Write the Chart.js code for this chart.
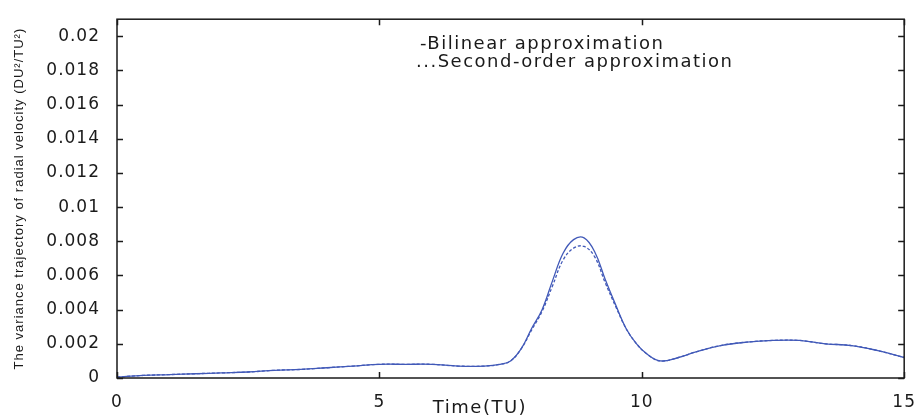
<!DOCTYPE html>
<html>
<head>
<meta charset="utf-8">
<script src="https://cdn.jsdelivr.net/npm/chart.js@4.4.1/dist/chart.umd.min.js"></script>
<style>
html,body{margin:0;padding:0;background:#fff;}
#wrap{width:922px;height:419px;position:relative;}
</style>
</head>
<body>
<div id="wrap"><canvas id="c" width="922" height="419"></canvas></div>
<script>
// ---- data ----
const timeTU = [0,0.5,1,1.5,2,2.5,3,3.5,4,4.5,5,5.5,6,6.5,7,7.3,7.5,7.7,7.9,8.1,8.3,8.5,8.7,8.9,9.1,9.3,9.5,9.7,9.9,10.1,10.35,10.7,11,11.5,12,12.5,13,13.5,14,14.5,15];
const bilinear = [0.00005,0.00015,0.0002,0.00025,0.0003,0.00035,0.00045,0.0005,0.0006,0.0007,0.0008,0.0008,0.0008,0.0007,0.0007,0.0008,0.001,0.0017,0.0029,0.0040,0.0057,0.0073,0.0081,0.0082,0.0074,0.0058,0.0043,0.0029,0.0020,0.0014,0.0010,0.0012,0.0015,0.0019,0.0021,0.0022,0.0022,0.0020,0.0019,0.0016,0.0012];
const secondOrder = [0.00005,0.00015,0.0002,0.00025,0.0003,0.00035,0.00045,0.0005,0.0006,0.0007,0.0008,0.0008,0.0008,0.0007,0.0007,0.0008,0.001,0.0017,0.0028,0.0039,0.0054,0.0069,0.0076,0.0077,0.0071,0.0056,0.0042,0.0029,0.0020,0.0014,0.0010,0.0012,0.0015,0.0019,0.0021,0.0022,0.0022,0.0020,0.0019,0.0016,0.0012];
const legendLabels = ['-Bilinear approximation', '...Second-order approximation'];
const xTitle = 'Time(TU)';
const yTitle = 'The variance trajectory of radial velocity (DU\u00B2/TU\u00B2)';
const yTicks = [0,0.002,0.004,0.006,0.008,0.01,0.012,0.014,0.016,0.018,0.02];
const xTicks = [0,5,10,15];

const LINE = '#4159b8';
const INK = '#1a1a1a';

const spacingPlugin = {
  id: 'spacing',
  beforeUpdate(chart) { chart.ctx.letterSpacing = '1px'; },
  beforeDraw(chart) { chart.ctx.letterSpacing = '1px'; }
};

const framePlugin = {
  id: 'frame',
  afterDatasetsDraw(chart) {
    const {ctx, chartArea: a, scales: {x, y}} = chart;
    ctx.save();
    ctx.strokeStyle = INK;
    ctx.lineWidth = 1.5;
    ctx.strokeRect(a.left, a.top, a.right - a.left, a.bottom - a.top);
    const tl = 6;
    ctx.beginPath();
    yTicks.forEach(v => {
      const py = Math.round(y.getPixelForValue(v)) + 0.5;
      ctx.moveTo(a.left, py); ctx.lineTo(a.left + tl, py);
      ctx.moveTo(a.right, py); ctx.lineTo(a.right - tl, py);
    });
    xTicks.forEach(v => {
      const px = Math.round(x.getPixelForValue(v)) + 0.5;
      ctx.moveTo(px, a.bottom); ctx.lineTo(px, a.bottom - tl);
      ctx.moveTo(px, a.top); ctx.lineTo(px, a.top + tl);
    });
    ctx.stroke();
    // legend text (text-only, as in the reference)
    ctx.fillStyle = INK;
    ctx.letterSpacing = '1.5px';
    ctx.font = '18px "DejaVu Sans"';
    ctx.textBaseline = 'middle';
    ctx.textAlign = 'left';
    ctx.fillText(legendLabels[0], 420, 44);
    ctx.fillText(legendLabels[1], 416, 62);
    // x axis title
    ctx.textAlign = 'center';
    ctx.fillText(xTitle, 480, 408);
    ctx.restore();
  }
};

new Chart(document.getElementById('c'), {
  type: 'line',
  data: {
    datasets: [
      {
        label: 'Bilinear approximation',
        data: timeTU.map((t, i) => ({x: t, y: bilinear[i]})),
        borderColor: LINE, borderWidth: 1.3, pointRadius: 0,
        tension: 0.4, fill: false
      },
      {
        label: 'Second-order approximation',
        data: timeTU.map((t, i) => ({x: t, y: secondOrder[i]})),
        borderColor: LINE, borderWidth: 1.3, pointRadius: 0, borderDash: [3, 2],
        tension: 0.4, fill: false
      }
    ]
  },
  options: {
    responsive: false,
    animation: false,
    layout: {padding: {left: 0, right: 14, top: 8, bottom: 0}},
    plugins: {legend: {display: false}, tooltip: {enabled: false}},
    scales: {
      x: {
        type: 'linear', min: 0, max: 15,
        grid: {display: false}, border: {display: false},
        afterBuildTicks: s => { s.ticks = xTicks.map(v => ({value: v})); },
        ticks: {color: INK, padding: 6, font: {family: 'DejaVu Sans', size: 17}, maxRotation: 0},
        afterFit: s => { s.height = 41; }
      },
      y: {
        type: 'linear', min: 0, max: 0.021,
        grid: {display: false}, border: {display: false},
        afterBuildTicks: s => { s.ticks = yTicks.map(v => ({value: v})); },
        ticks: {
          color: INK, padding: 9, font: {family: 'DejaVu Sans', size: 17},
          callback: v => String(Number(v.toFixed(3)))
        },
        title: {display: true, text: yTitle, color: INK, font: {family: 'Liberation Sans', size: 13}, padding: {top: 12, bottom: 0}},
        afterFit: s => { s.width = 117; }
      }
    }
  },
  plugins: [spacingPlugin, framePlugin]
});
</script>
</body>
</html>
